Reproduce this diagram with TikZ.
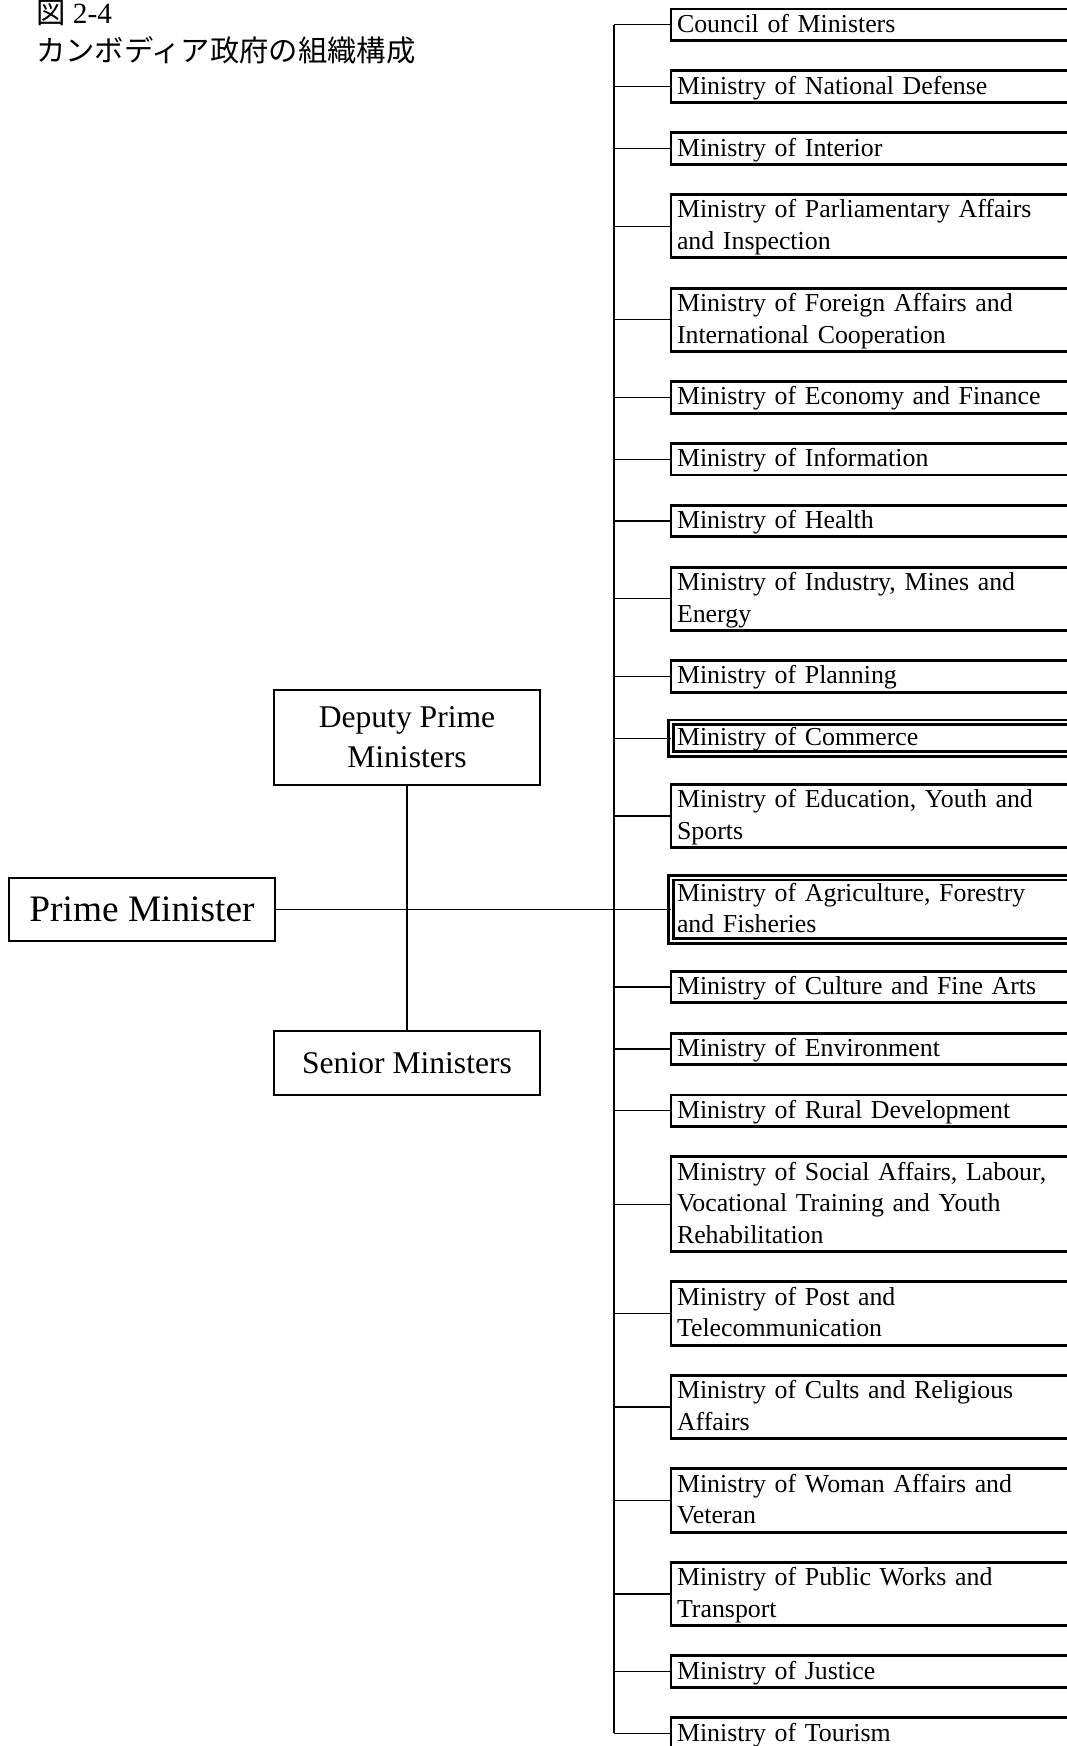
\documentclass[tikz,border=0pt]{standalone}
\usepackage{fontspec}
\setmainfont{Liberation Serif}
\newfontfamily\cjk{Noto Sans CJK JP}
\usetikzlibrary{positioning}
\newcommand\boxstrut{\rule[-0.26\baselineskip]{0pt}{\baselineskip}}
\tikzset{
  ministry/.style={draw, line width=2.2pt, outer sep=0pt, text width=300pt, align=left,
    inner xsep=4.5pt, inner ysep=0pt, font=\fontsize{19.4}{23.7}\selectfont,
    execute at begin node=\boxstrut, execute at end node=\boxstrut},
  doublebox/.style={ministry, double, line width=2pt, double distance=1.5pt},
  leader/.style={draw, line width=1.3pt, outer sep=0pt, minimum width=199.5pt,
    align=center, font=\fontsize{23.7}{30}\selectfont},
  branch/.style={line width=1pt},
  trunk/.style={line width=1.5pt},
  caption/.style={anchor=base west, inner sep=0pt, font=\fontsize{22}{30}\selectfont}
}

\begin{document}
\begin{tikzpicture}[x=0.75pt, y=-0.75pt]
  \path[use as bounding box, fill=white] (0,0) rectangle (1067,1746);
  % caption
  \node[caption] (fig) at (36,23) {{\cjk 図} 2-4};
  \node[caption] (title) at (36,61) {\cjk カンボディア政府の組織構成};
  % ministries
  \node[ministry, anchor=north west] (m1) at (671,9) {Council of Ministers};
  \foreach \s/\txt [count=\i from 2] in {
      ministry/{Ministry of National Defense},
      ministry/{Ministry of Interior},
      ministry/{Ministry of Parliamentary Affairs\\and Inspection},
      ministry/{Ministry of Foreign Affairs and\\International Cooperation},
      ministry/{Ministry of Economy and Finance},
      ministry/{Ministry of Information},
      ministry/{Ministry of Health},
      ministry/{Ministry of Industry, Mines and\\Energy},
      ministry/{Ministry of Planning},
      doublebox/{Ministry of Commerce},
      ministry/{Ministry of Education, Youth and\\Sports},
      doublebox/{Ministry of Agriculture, Forestry\\and Fisheries},
      ministry/{Ministry of Culture and Fine Arts},
      ministry/{Ministry of Environment},
      ministry/{Ministry of Rural Development},
      ministry/{Ministry of Social Affairs, Labour,\\Vocational Training and Youth\\Rehabilitation},
      ministry/{Ministry of Post and\\Telecommunication},
      ministry/{Ministry of Cults and Religious\\Affairs},
      ministry/{Ministry of Woman Affairs and\\Veteran},
      ministry/{Ministry of Public Works and\\Transport},
      ministry/{Ministry of Justice},
      ministry/{Ministry of Tourism}}{
    \pgfmathtruncatemacro\prev{\i-1}
    \node[\s, below=22.7pt of m\prev] (m\i) {\txt};
  }
  % leaders
  \node[leader, minimum height=47pt, font=\fontsize{28}{32}\selectfont]
    (pm) at (142,0 |- m13.west) {Prime Minister};
  \node[leader, minimum height=71pt] (dpm) at (407,737.5) {Deputy Prime\\Ministers};
  \node[leader, minimum height=48pt] (sm) at (407,1063) {Senior Ministers};
  % lines
  \coordinate (trunk) at (614,0);
  \draw[trunk] (m1.west -| trunk) -- (m23.west -| trunk);
  \foreach \i in {1,...,23}
    \draw[branch] (m\i.west -| trunk) -- (m\i.west);
  \draw[branch] (pm.east) -- (pm.east -| trunk);
  \draw[branch] (dpm.south) -- (sm.north);
\end{tikzpicture}
\end{document}
